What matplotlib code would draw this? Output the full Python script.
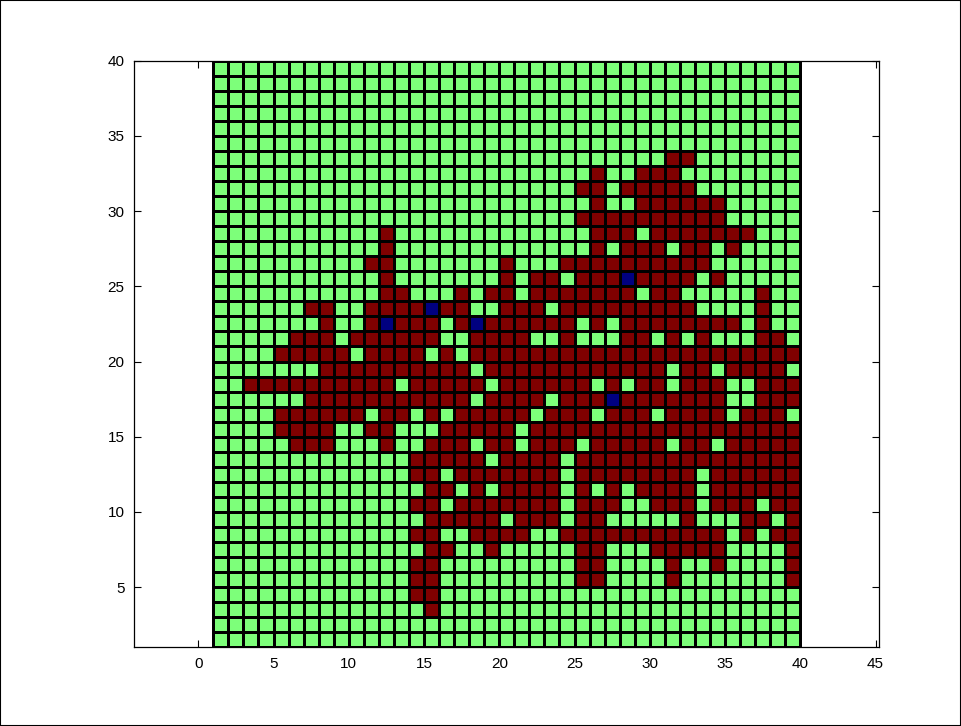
import numpy as np
import matplotlib
matplotlib.use("Agg")
import matplotlib.pyplot as plt
from matplotlib.patches import Rectangle

# Lattice of 39 x 39 cells spanning 1..40 on both axes.
# Occupied cells per row (row j covers y = j..j+1), given as inclusive column runs.
occupied_runs = {
    33: [(31, 32)],
    32: [(26, 26), (29, 31)],
    31: [(25, 26), (28, 32)],
    30: [(26, 26), (29, 34)],
    29: [(25, 34)],
    28: [(12, 12), (26, 28), (30, 36)],
    27: [(12, 12), (26, 26), (28, 30), (32, 33), (35, 35)],
    26: [(11, 12), (20, 20), (24, 33)],
    25: [(12, 12), (20, 20), (22, 23), (25, 32), (34, 34)],
    24: [(12, 13), (17, 17), (19, 20), (22, 28), (30, 31), (37, 37)],
    23: [(7, 8), (11, 14), (16, 17), (20, 22), (24, 32), (37, 37)],
    22: [(8, 8), (11, 11), (13, 15), (17, 17), (19, 24), (26, 26), (28, 35), (37, 37)],
    21: [(6, 8), (10, 15), (18, 21), (24, 24), (28, 29), (31, 31), (33, 33), (37, 38)],
    20: [(5, 9), (11, 14), (16, 16), (18, 39)],
    19: [(8, 17), (19, 30), (32, 33), (35, 38)],
    18: [(3, 12), (14, 18), (20, 25), (27, 27), (29, 30), (32, 34), (37, 39)],
    17: [(7, 17), (19, 22), (24, 26), (28, 34), (37, 39)],
    16: [(5, 10), (12, 13), (15, 15), (17, 21), (23, 25), (27, 29), (31, 34), (36, 38)],
    15: [(5, 8), (11, 12), (16, 20), (22, 39)],
    14: [(6, 8), (12, 12), (15, 17), (19, 20), (22, 24), (26, 30), (32, 33), (35, 39)],
    13: [(14, 18), (20, 23), (25, 39)],
    12: [(14, 15), (17, 23), (25, 32), (34, 39)],
    11: [(15, 16), (18, 18), (20, 23), (25, 25), (27, 27), (29, 32), (34, 39)],
    10: [(14, 15), (17, 23), (25, 27), (30, 32), (34, 36), (38, 39)],
    9: [(15, 19), (21, 23), (25, 26), (32, 32), (36, 37), (39, 39)],
    8: [(14, 15), (18, 21), (24, 34), (36, 36), (38, 39)],
    7: [(15, 16), (19, 19), (25, 26), (30, 34), (39, 39)],
    6: [(14, 15), (25, 26), (31, 31), (34, 34), (39, 39)],
    5: [(14, 15), (25, 26), (31, 31), (39, 39)],
    4: [(14, 15)],
    3: [(15, 15)],
}

# Seed cells (column, row)
seed_cells = [(12, 22), (15, 23), (18, 22), (28, 25), (27, 17)]

x_ticks = [0, 5, 10, 15, 20, 25, 30, 35, 40, 45]
y_ticks = [5, 10, 15, 20, 25, 30, 35, 40]

n = 39
edges = np.arange(1, n + 2)
state = np.zeros((n, n))
for row, runs in occupied_runs.items():
    for c0, c1 in runs:
        state[row - 1, c0 - 1:c1] = 1.0
for col, row in seed_cells:
    state[row - 1, col - 1] = -1.0

W, H = 961, 726
fig = plt.figure(figsize=(W / 100, H / 100), dpi=100)
fig.patch.set_facecolor("white")
fig.patches.append(Rectangle((0, 0), 1, 1, transform=fig.transFigure,
                             fill=False, edgecolor="black", linewidth=1.5))

ax = fig.add_axes([134.3 / W, (H - 647.3) / H, 745.0 / W, 586.6 / H])
ax.pcolormesh(edges, edges, state, cmap="jet", vmin=-1, vmax=1,
              edgecolors="black", linewidth=1.0, antialiased=False)

ax.set_xlim(-4.25, 45.25)
ax.set_ylim(1, 40)
ax.set_xticks(x_ticks)
ax.set_yticks(y_ticks)
ax.tick_params(direction="in", length=5, width=0.8, top=True, right=True,
               labelsize=11, pad=7, colors="black")
for lab in ax.get_xticklabels() + ax.get_yticklabels():
    lab.set_family("Liberation Sans")
for sp in ax.spines.values():
    sp.set_linewidth(0.9)

fig.savefig("out.png", dpi=100)
